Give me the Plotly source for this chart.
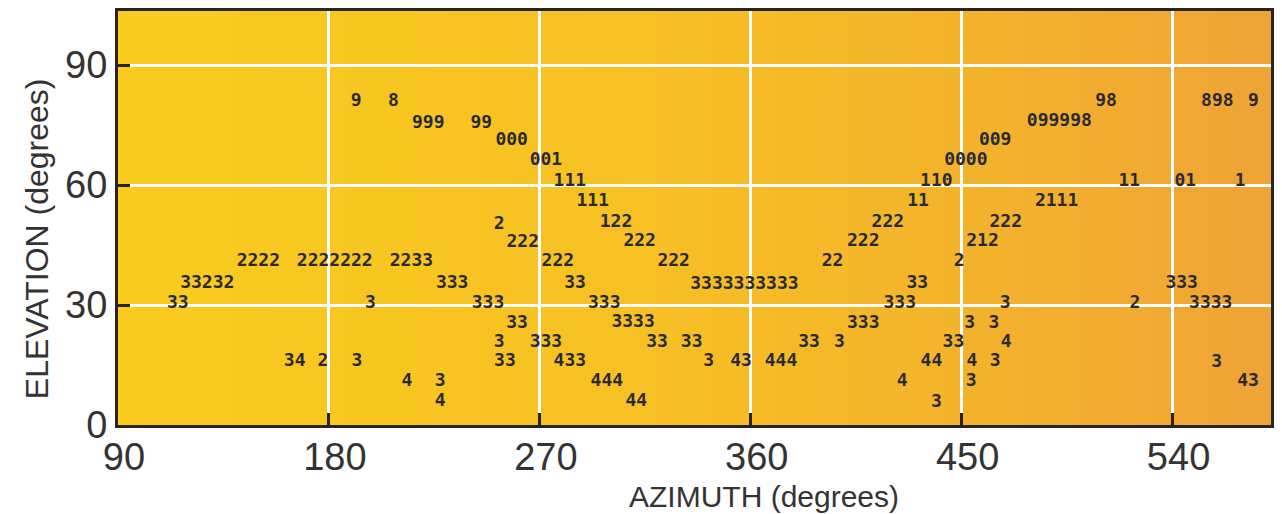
import plotly.graph_objects as go

# ---- data: printed digit groups, centre azimuth (deg), centre elevation (deg)
labels = [
    "9", "8", "98", "898", "9",
    "999", "99", "099998",
    "000", "009",
    "001", "0000",
    "111", "110", "11", "01", "1",
    "111", "11", "2111",
    "2", "122", "222", "222",
    "222", "222", "222", "212",
    "2222", "2222222", "2233", "222", "222", "22", "2",
    "33232", "333", "33", "3333333333", "33", "333",
    "33", "3", "333", "333", "333", "3", "2", "3333",
    "33", "3333", "333", "3", "3",
    "3", "333", "33", "33", "33", "3", "33", "4",
    "34", "2", "3", "33", "433", "3", "43", "444", "44", "4", "3", "3",
    "4", "3", "444", "4", "3", "43",
    "4", "44", "3",
]
azimuth = [
    191.6, 207.5, 511.6, 559.1, 574.5,
    222.4, 245.0, 491.7,
    258.0, 464.3,
    272.6, 451.8,
    282.8, 439.2, 521.5, 545.4, 568.8,
    292.6, 431.4, 490.5,
    252.6, 302.5, 418.5, 468.8,
    262.7, 312.6, 408.0, 458.9,
    149.9, 182.5, 215.2, 277.7, 327.1, 394.9, 448.9,
    128.1, 232.6, 285.0, 357.3, 431.1, 543.9,
    115.5, 197.7, 247.9, 297.5, 423.6, 468.6, 523.9, 556.3,
    260.3, 309.8, 408.0, 453.4, 463.8,
    252.6, 272.6, 320.0, 334.8, 384.9, 397.8, 446.5, 469.0,
    165.4, 177.4, 191.9, 255.1, 282.8, 342.0, 355.9, 372.9, 437.1, 454.4, 464.3, 558.8,
    213.3, 227.5, 298.6, 424.6, 454.1, 572.2,
    227.5, 311.2, 439.2,
]
elevation = [
    81.0, 81.0, 81.0, 81.0, 81.0,
    75.5, 75.5, 75.8,
    71.1, 71.1,
    66.1, 66.1,
    60.9, 60.9, 60.9, 60.9, 60.9,
    56.0, 56.0, 56.0,
    50.2, 50.6, 50.6, 50.6,
    45.7, 45.8, 45.8, 45.8,
    40.9, 40.9, 40.9, 41.0, 41.0, 41.0, 41.0,
    35.5, 35.5, 35.5, 35.2, 35.5, 35.5,
    30.4, 30.3, 30.4, 30.4, 30.4, 30.3, 30.4, 30.4,
    25.3, 25.7, 25.4, 25.4, 25.4,
    20.7, 20.7, 20.7, 20.7, 20.7, 20.7, 20.7, 20.7,
    16.0, 16.0, 16.0, 16.0, 16.0, 16.0, 16.0, 16.0, 16.0, 16.0, 16.0, 15.7,
    10.8, 11.0, 10.8, 10.8, 10.8, 10.8,
    5.8, 5.8, 5.6,
]

x_ticks = [90, 180, 270, 360, 450, 540]
y_ticks = [0, 30, 60, 90]
x_range = [90, 582]
y_range = [0, 103.5]

fig = go.Figure()
fig.add_trace(go.Scatter(
    x=azimuth, y=elevation, text=labels, mode="text",
    textposition="middle center",
    textfont=dict(family="DejaVu Sans Mono", size=18, color="#2a2a34", weight="bold"),
    hoverinfo="x+y+text", showlegend=False,
))

# yellow-to-orange background (drawn beneath the grid)
stops = [(0.0, (249, 204, 30)), (0.45, (247, 192, 36)), (0.75, (243, 178, 44)), (1.0, (239, 164, 54))]
def col(t):
    for (t0, c0), (t1, c1) in zip(stops[:-1], stops[1:]):
        if t <= t1:
            f = (t - t0) / (t1 - t0)
            return "rgb(%d,%d,%d)" % tuple(round(a + (b - a) * f) for a, b in zip(c0, c1))
    return "rgb(%d,%d,%d)" % stops[-1][1]
n = 60
shapes = []
for i in range(n):
    shapes.append(dict(type="rect", xref="x domain", yref="y domain",
                       x0=i / n, x1=(i + 1) / n + 0.002, y0=0, y1=1,
                       fillcolor=col((i + 0.5) / n), line=dict(width=0), layer="below"))

axis_common = dict(
    showline=True, linecolor="#262424", linewidth=3, mirror=True,
    showgrid=True, gridcolor="white", gridwidth=3,
    ticks="inside", ticklen=12, tickwidth=3, tickcolor="#262424",
    zeroline=False,
    tickfont=dict(family="Liberation Sans", size=38, color="#333333"),
)

fig.update_layout(
    width=1282, height=514,
    margin=dict(l=118, r=8, t=9, b=89),
    paper_bgcolor="white", plot_bgcolor="rgb(247,192,36)",
    shapes=shapes,
    xaxis=dict(range=x_range, tickvals=x_ticks, ticklabelstandoff=-4, ticklabelshift=6, **axis_common),
    yaxis=dict(range=y_range, tickvals=y_ticks, ticklabelstandoff=0, **axis_common),
    annotations=[
        dict(text="AZIMUTH (degrees)", xref="paper", yref="paper", x=0.5606, y=-0.1735,
             xanchor="center", yanchor="middle", showarrow=False,
             font=dict(family="Liberation Sans", size=30, color="#333333")),
        dict(text="ELEVATION (degrees)", xref="paper", yref="paper", x=-0.070, y=0.4495,
             xanchor="center", yanchor="middle", showarrow=False, textangle=-90,
             font=dict(family="Liberation Sans", size=32, color="#333333")),
    ],
)

fig.write_html("out.html", config={"displayModeBar": False},
               post_script="document.body.style.margin='0';")
